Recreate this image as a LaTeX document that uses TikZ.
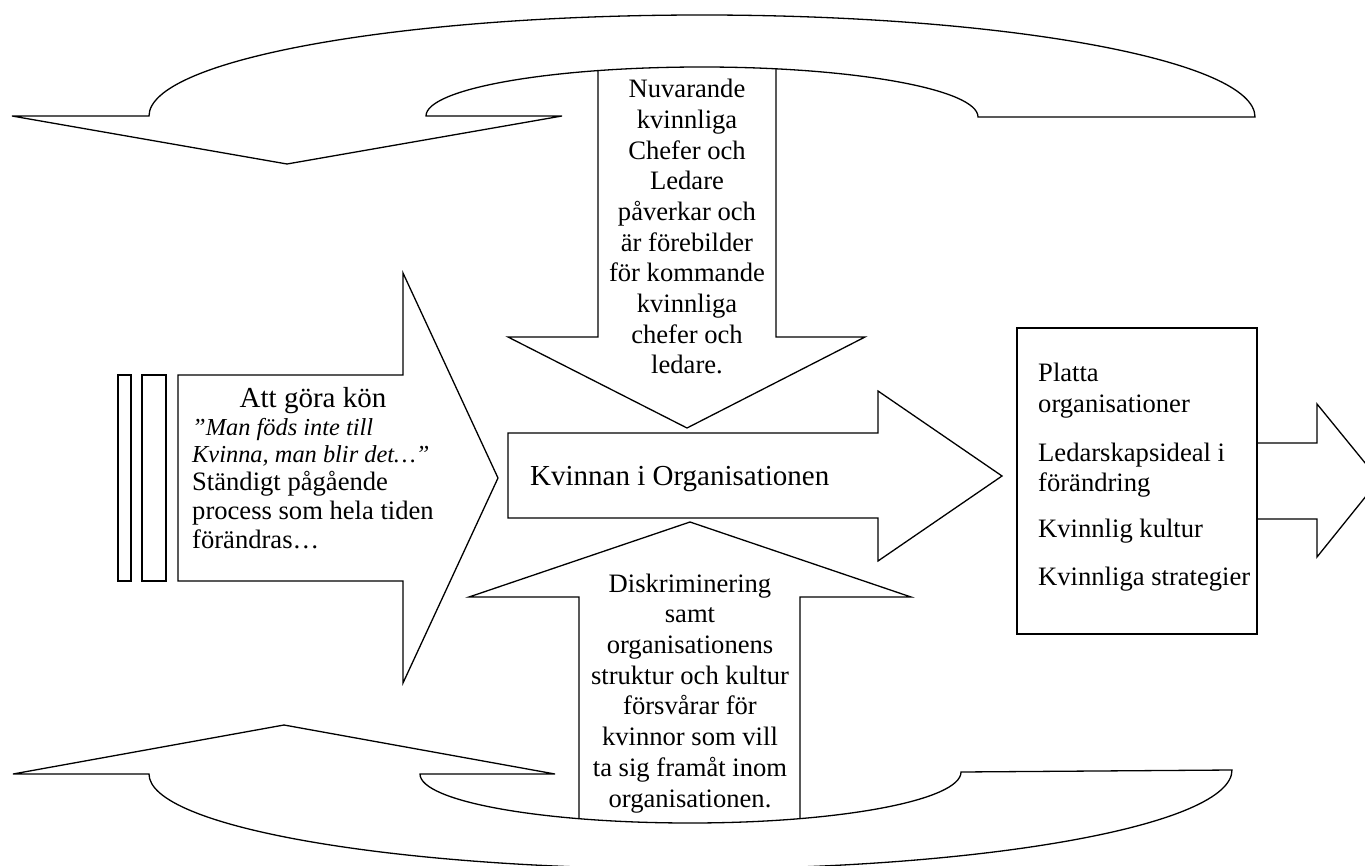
\documentclass[tikz,border=0pt]{standalone}
\usepackage{fontspec}
\setmainfont{Liberation Serif}
\usepackage{tikz}

\tikzstyle{blockarrow} = [draw, fill=white, line width=1.3pt, line join=miter]
\tikzstyle{shaft} = [draw, line width=1.3pt, line join=miter]
\tikzstyle{barbox} = [draw, line width=1.3pt]
\tikzstyle{body} = [inner sep=0pt, font=\fontsize{26.6}{30.7}\selectfont]
\tikzstyle{heading} = [inner sep=0pt, font=\fontsize{29}{33}\selectfont]
\tikzstyle{citation} = [inner sep=0pt, font=\fontsize{24.4}{27}\selectfont\itshape]

\begin{document}
\begin{tikzpicture}[x=1pt,y=-1pt]
	\path[use as bounding box, fill=white] (0,0) rectangle (1365,866);
	
	% First we draw the two straight arrows that run into the curved ones
	\draw[shaft] (598,60) -- (598,337) -- (508,337) -- (687,428) -- (865,337) -- (776,337) -- (776,60);
	\draw[shaft] (579,830) -- (579,597) -- (469,597) -- (690,522) -- (911,597) -- (800,597) -- (800,830);
	
	% Curved arrow on top
	\draw[blockarrow] (12,116) -- (149,116)
		.. controls (149,60.2) and (396.6,15) .. (702,15)
		.. controls (1007.4,15) and (1255,60.7) .. (1255,117)
		-- (978,117)
		.. controls (978,89.4) and (854.4,67) .. (702,67)
		.. controls (549.6,67) and (426,88.9) .. (426,116)
		-- (562,116) -- (287,164) -- cycle;
	
	% Curved arrow at the bottom
	\draw[blockarrow] (13,774) -- (149,774)
		.. controls (149,826.5) and (391.2,869) .. (690,869)
		.. controls (988.8,869) and (1232,824.7) .. (1232,770)
		-- (961,772)
		.. controls (961,800.2) and (839.7,823) .. (690,823)
		.. controls (540.3,823) and (420,801) .. (420,774)
		-- (555,774) -- (284,725) -- cycle;
	
	% Arrow to the right, partly hidden behind the box
	\draw[blockarrow] (1200,443) -- (1317,443) -- (1317,404) -- (1379,480) -- (1317,557) -- (1317,519) -- (1200,519);
	\draw[blockarrow] (1017,328) rectangle (1257,634);
	
	% Left arrow with its two bars
	\foreach \xa/\xb in {118/131, 142/166}
	\draw[barbox] (\xa,375) rectangle (\xb,581);
	\draw[blockarrow] (178,375) -- (403,375) -- (403,273) -- (498,478) -- (403,683) -- (403,581) -- (178,581) -- cycle;
	
	% Middle arrow
	\draw[blockarrow] (508,433) -- (878,433) -- (878,391) -- (1002,476) -- (878,561) -- (878,518) -- (508,518) -- cycle;
	
	% Then the texts
	\node[heading, anchor=base] (attgora) at (313,407) {Att göra kön};
	\foreach \y/\name/\txt in {435/citat1/{”Man föds inte till}, 462/citat2/{Kvinna, man blir det…”}}
	\node[citation, anchor=base west] (\name) at (192,\y) {\txt};
	\node[body, font=\fontsize{26.6}{29.2}\selectfont, anchor=north west, align=left] (process) at (192,471) {Ständigt pågående\\process som hela tiden\\förändras…};
	\node[heading, anchor=base west] (kvinnan) at (530,485) {Kvinnan i Organisationen};
	\node[body, anchor=north, align=center] (forebilder) at (687,79) {Nuvarande\\kvinnliga\\Chefer och\\Ledare\\påverkar och\\är förebilder\\för kommande\\kvinnliga\\chefer och\\ledare.};
	\node[body, anchor=north, align=center] (hinder) at (690,573.5) {Diskriminering\\samt\\organisationens\\struktur och kultur\\försvårar för\\kvinnor som vill\\ta sig framåt inom\\organisationen.};
	\node[body, anchor=north west, align=left] (faktorer) at (1038,363) {Platta\\organisationer\\[18pt]Ledarskapsideal i\\förändring\\[15.5pt]Kvinnlig kultur\\[16.5pt]Kvinnliga strategier};
	
\end{tikzpicture}
\end{document}
